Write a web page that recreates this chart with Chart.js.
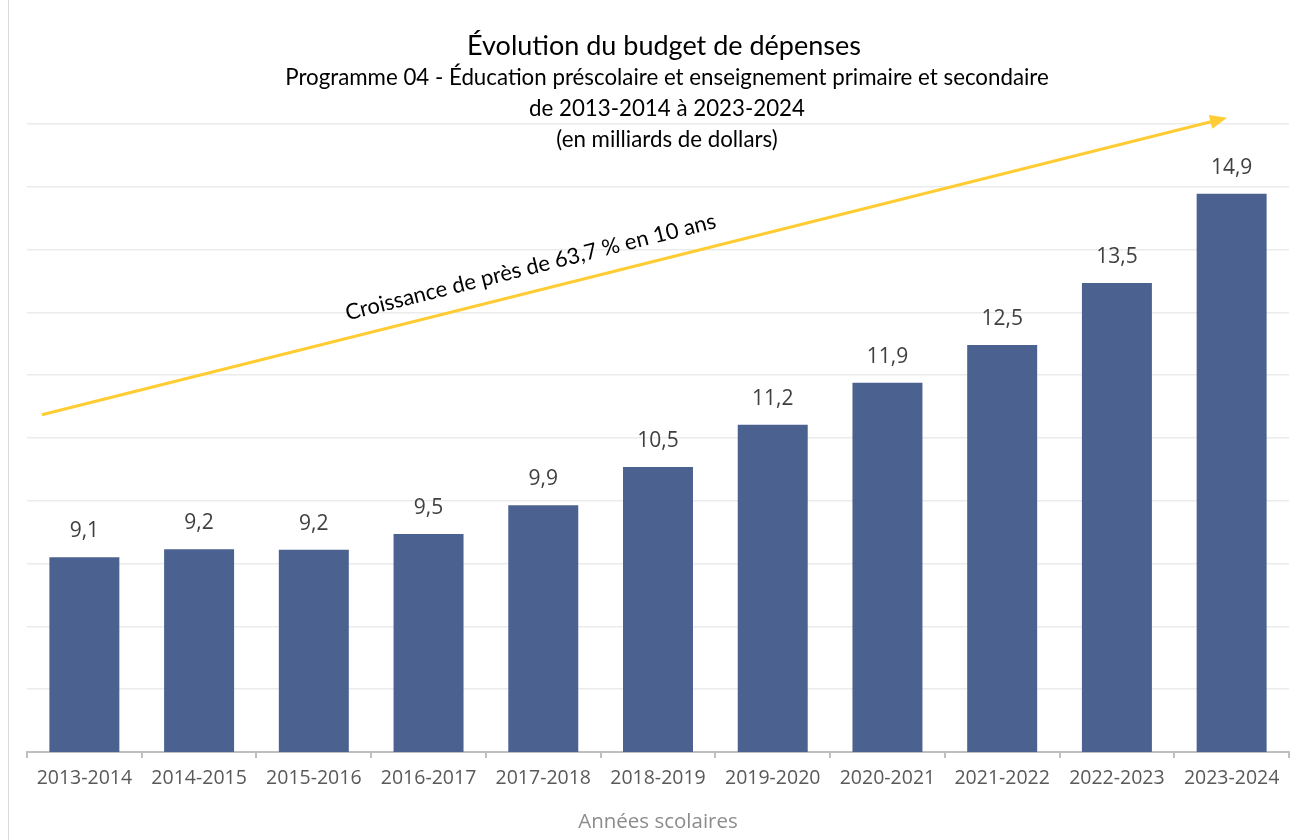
<!DOCTYPE html>
<html>
<head>
<meta charset="utf-8">
<script src="https://cdn.jsdelivr.net/npm/chart.js@4.4.1/dist/chart.umd.min.js"></script>
<style>
  html, body { margin: 0; padding: 0; background: #ffffff; }
  #wrap { width: 1308px; height: 840px; position: relative; }
</style>
</head>
<body>
<div id="wrap"><canvas id="c" width="1308" height="840"></canvas></div>
<script>
// ---- Data ----
const categories = ["2013-2014", "2014-2015", "2015-2016", "2016-2017", "2017-2018", "2018-2019", "2019-2020", "2020-2021", "2021-2022", "2022-2023", "2023-2024"];
const budget = [9.1, 9.23, 9.22, 9.47, 9.93, 10.54, 11.21, 11.88, 12.48, 13.47, 14.89];
const yTicksMin = 6;
const yTicksMax = 16;
const titleLines = ["Évolution du budget de dépenses"];
const subtitleLines = ["Programme 04 - Éducation préscolaire et enseignement primaire et secondaire", "de 2013-2014 à 2023-2024", "(en milliards de dollars)"];
const xAxisTitle = "Années scolaires";
const arrowLabel = "Croissance de près de 63,7 % en 10 ans";

const TEXT_FONT = "'Open Sans', 'Noto Sans', sans-serif";
const TITLE_FONT = "Lato, 'Open Sans', sans-serif";

const fmt = v => v.toFixed(1).replace('.', ',');

const decorPlugin = {
  id: 'decor',
  beforeDraw(chart) {
    const ctx = chart.ctx;
    ctx.save();
    ctx.strokeStyle = '#d9d9d9';
    ctx.lineWidth = 1;
    ctx.beginPath();
    ctx.moveTo(8.5, 0);
    ctx.lineTo(8.5, chart.height);
    ctx.stroke();
    ctx.restore();
  },
  afterDraw(chart) {
    const ctx = chart.ctx;
    const xs = chart.scales.x, ys = chart.scales.y;
    ctx.save();
    // Titles
    ctx.fillStyle = '#000000';
    ctx.textAlign = 'center';
    ctx.textBaseline = 'middle';
    ctx.font = "27px " + TITLE_FONT;
    ctx.fillText(titleLines[0], 664, 46);
    ctx.font = "22.3px " + TITLE_FONT;
    const subY = [78, 109, 140];
    subtitleLines.forEach((t, i) => ctx.fillText(t, 667, subY[i]));

    // Data labels
    const meta = chart.getDatasetMeta(0);
    ctx.fillStyle = '#404040';
    ctx.font = "21px " + TEXT_FONT;
    meta.data.forEach((bar, i) => {
      ctx.fillText(fmt(budget[i]), bar.x, bar.y - 26);
    });

    // Growth arrow (anchored to scale values)
    const x0 = xs.getPixelForValue(-0.37), y0 = ys.getPixelForValue(11.37);
    const x1 = xs.getPixelForValue(9.96), y1 = ys.getPixelForValue(16.1);
    const ang = Math.atan2(y1 - y0, x1 - x0);
    const headLen = 17, headW = 7;
    ctx.strokeStyle = '#FFCC33';
    ctx.fillStyle = '#FFCC33';
    ctx.lineWidth = 3;
    ctx.beginPath();
    ctx.moveTo(x0, y0);
    ctx.lineTo(x1 - Math.cos(ang) * headLen * 0.8, y1 - Math.sin(ang) * headLen * 0.8);
    ctx.stroke();
    ctx.beginPath();
    ctx.moveTo(x1, y1);
    ctx.lineTo(x1 - Math.cos(ang) * headLen - Math.sin(ang) * headW, y1 - Math.sin(ang) * headLen + Math.cos(ang) * headW);
    ctx.lineTo(x1 - Math.cos(ang) * headLen + Math.sin(ang) * headW, y1 - Math.sin(ang) * headLen - Math.cos(ang) * headW);
    ctx.closePath();
    ctx.fill();

    // Arrow label
    const tx = xs.getPixelForValue(3.89), ty = ys.getPixelForValue(13.72);
    ctx.translate(tx, ty);
    ctx.rotate(ang);
    ctx.fillStyle = '#000000';
    ctx.font = "22px " + TITLE_FONT;
    ctx.textAlign = 'center';
    ctx.textBaseline = 'middle';
    ctx.fillText(arrowLabel, 0, 0);
    ctx.restore();
  }
};

new Chart(document.getElementById('c'), {
  type: 'bar',
  data: {
    labels: categories,
    datasets: [{
      data: budget,
      backgroundColor: '#4B6290',
      borderWidth: 0,
      barPercentage: 0.61,
      categoryPercentage: 1.0
    }]
  },
  options: {
    responsive: false,
    animation: false,
    layout: { padding: { left: 27, right: 19, top: 124, bottom: 6 } },
    plugins: {
      legend: { display: false },
      title: { display: false },
      tooltip: { enabled: false }
    },
    scales: {
      x: {
        grid: { display: true, drawOnChartArea: false, drawTicks: true, tickLength: 6, color: '#bfbfbf', lineWidth: 2, offset: true },
        border: { display: true, color: '#bfbfbf', width: 2 },
        ticks: { color: '#595959', font: { family: TEXT_FONT, size: 19.5 }, padding: 9, maxRotation: 0 },
        title: { display: true, text: xAxisTitle, color: '#8c8c8c', font: { family: TEXT_FONT, size: 20.5 }, padding: { top: 10, bottom: 0 } }
      },
      y: {
        min: yTicksMin,
        max: yTicksMax,
        ticks: { display: false, stepSize: 1 },
        grid: { color: '#ebebeb', lineWidth: 1.5, drawTicks: false },
        border: { display: false }
      }
    }
  },
  plugins: [decorPlugin]
});
</script>
</body>
</html>
